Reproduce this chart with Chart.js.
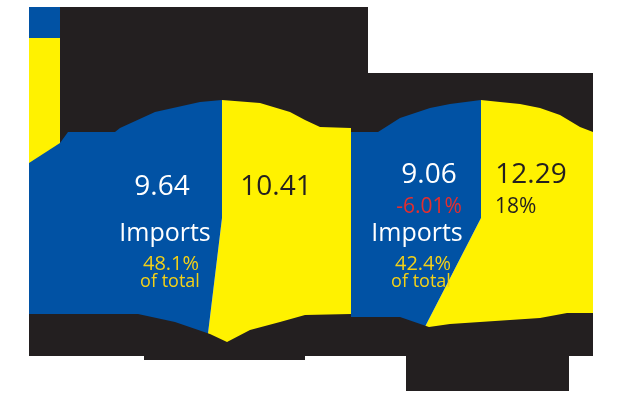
<!DOCTYPE html>
<html>
<head>
<meta charset="utf-8">
<script src="https://cdn.jsdelivr.net/npm/chart.js@4"></script>
<style>
    html, body { margin: 0; padding: 0; background: #fff; }
    #wrap { position: relative; width: 640px; height: 400px; overflow: hidden; }
    canvas { position: absolute; }
    #pieA { left: 29px; top: 73px; }
    #pieB { left: 351px; top: 73px; }
    #mask { left: 0; top: 0; pointer-events: none; }
</style>
</head>
<body>
<div id="wrap">
    <canvas id="pieA" width="322" height="283"></canvas>
    <canvas id="pieB" width="242" height="283"></canvas>
    <canvas id="mask" width="640" height="400"></canvas>
</div>
<script>
// Data (billions) - slices go clockwise from 12 o'clock
const categories = ['Exports', 'Imports'];
const valuesA = [10.41, 9.64];
const valuesB = [12.29, 9.06];
const importChange = [null, '-6.01%'];
const exportChange = [null, '18%'];

const BLUE = '#0152a4';
const YELLOW = '#fff200';
const DARK = '#231f20';
const GOLD = '#f4d117';
const RED = '#e52e2e';
const FONT = '"Open Sans", sans-serif';

// Text offsets from the pie centre
const layouts = [
    { exp: [54, -23], imp: [-60, -23], word: [-57, 23], share: [-51, 52], total: [-52, 69] },
    { exp: [50, -35], imp: [-52, -35], impChg: [-52, -5], expChg: [14, -5],
      word: [-64, 23], share: [-58, 52], total: [-60, 69] }
];

function txt(ctx, s, x, y, size, color, align) {
    ctx.font = size + 'px ' + FONT;
    ctx.fillStyle = color;
    ctx.textAlign = align || 'center';
    ctx.textBaseline = 'alphabetic';
    ctx.fillText(s, x, y);
}

// Labels inside the slices
const sliceLabels = {
    id: 'sliceLabels',
    afterDatasetsDraw(chart, args, opts) {
        const ctx = chart.ctx;
        const arc = chart.getDatasetMeta(0).data[0];
        const cx = arc.x, cy = arc.y;
        const L = layouts[opts.idx];
        const vals = chart.data.datasets[0].data;
        const share = (vals[1] / (vals[0] + vals[1]) * 100).toFixed(1) + '%';
        ctx.save();
        txt(ctx, vals[0].toFixed(2), cx + L.exp[0], cy + L.exp[1], 28, DARK);
        txt(ctx, vals[1].toFixed(2), cx + L.imp[0], cy + L.imp[1], 28, '#fff');
        if (importChange[opts.idx]) txt(ctx, importChange[opts.idx], cx + L.impChg[0], cy + L.impChg[1], 21, RED);
        if (exportChange[opts.idx]) txt(ctx, exportChange[opts.idx], cx + L.expChg[0], cy + L.expChg[1], 21, DARK, 'left');
        txt(ctx, categories[1], cx + L.word[0], cy + L.word[1], 25, '#fff');
        txt(ctx, share, cx + L.share[0], cy + L.share[1], 20, GOLD);
        txt(ctx, 'of total', cx + L.total[0], cy + L.total[1], 18, GOLD);
        ctx.restore();
    }
};

function makePie(id, values, idx, padLeft) {
    return new Chart(document.getElementById(id), {
        type: 'pie',
        data: {
            labels: categories,
            datasets: [{
                data: values,
                backgroundColor: [YELLOW, BLUE],
                borderWidth: 0,
                clip: false
            }]
        },
        options: {
            responsive: false,
            animation: false,
            radius: 240,
            layout: { padding: { left: padLeft, top: 7 } },
            plugins: {
                legend: { display: false },
                tooltip: { enabled: false },
                sliceLabels: { idx: idx }
            }
        },
        plugins: [sliceLabels]
    });
}

makePie('pieA', valuesA, 0, 64);
makePie('pieB', valuesB, 1, 18);

// Black cover bands and the legend keys around the pies
const m = document.getElementById('mask').getContext('2d');
function poly(pts, color) {
    m.beginPath();
    m.moveTo(pts[0][0], pts[0][1]);
    for (let i = 1; i < pts.length; i++) m.lineTo(pts[i][0], pts[i][1]);
    m.closePath();
    m.fillStyle = color;
    m.fill();
}
m.fillStyle = BLUE;
m.fillRect(29, 7, 31, 31);
poly([[29, 38], [60, 38], [60, 143], [29, 163]], YELLOW);
poly([[60, 7], [368, 7], [368, 73], [593, 73], [593, 132], [580, 127], [560, 115], [540, 108],
      [520, 104], [500, 102], [481, 100], [450, 104], [430, 108], [400, 118], [378, 132],
      [351, 132], [351, 128], [320, 127], [305, 120], [290, 112], [260, 103], [222, 100],
      [200, 102], [155, 112], [120, 128], [115, 132], [68, 132], [60, 143]], DARK);
poly([[29, 314], [138, 314], [175, 322], [210, 334], [227, 342], [250, 330], [280, 322],
      [305, 315], [351, 314], [351, 317], [400, 317], [429, 327], [450, 324], [480, 322],
      [510, 320], [540, 318], [567, 313], [593, 313], [593, 356], [569, 356], [569, 391],
      [406, 391], [406, 356], [305, 356], [305, 360], [144, 360], [144, 356], [29, 356]], DARK);
</script>
</body>
</html>
